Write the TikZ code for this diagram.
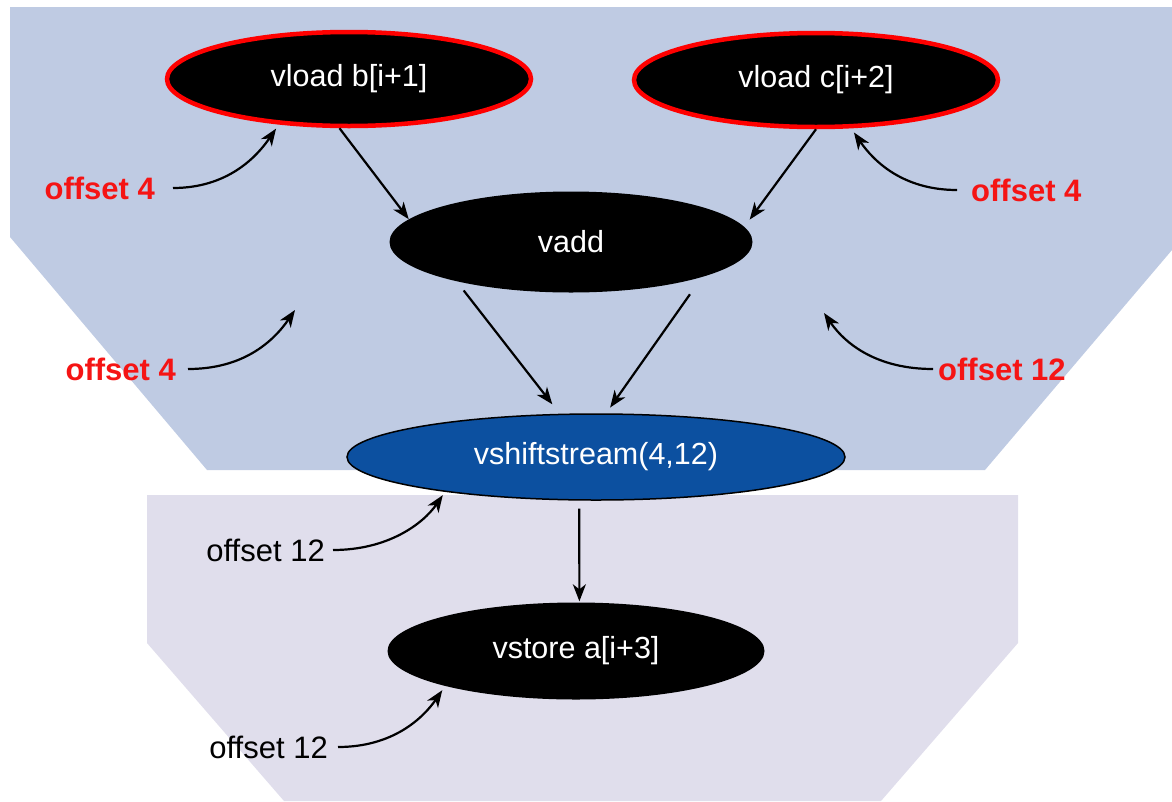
\documentclass[tikz,border=0pt]{standalone}
\usepackage{fontspec}
\setmainfont{Liberation Sans}
\usetikzlibrary{shapes.geometric,arrows.meta}
\definecolor{upperbg}{RGB}{191,203,227}
\definecolor{lowerbg}{RGB}{224,222,236}
\definecolor{nodeblue}{RGB}{12,80,160}
\definecolor{lblred}{RGB}{245,20,20}
\begin{document}
\begin{tikzpicture}[x=1pt,y=-1pt,
  op/.style={ellipse, fill=black, text=white, inner sep=0pt,
    font=\fontsize{30.5}{36}\selectfont},
  loadop/.style={op, draw=red, line width=4.5pt},
  arr/.style={line width=2.2pt, -{Stealth[length=17pt,width=13pt,inset=5pt]}},
  redlbl/.style={text=lblred, inner ysep=0pt, font=\bfseries\fontsize{31}{36}\selectfont},
  blacklbl/.style={text=black, inner ysep=0pt, font=\fontsize{31}{36}\selectfont}
]
\useasboundingbox (0,0) rectangle (1172,801);
% background regions
\fill[upperbg] (10,7) -- (1172,7) -- (1172,250) -- (985,470) -- (207,470) -- (10,237) -- cycle;
\fill[lowerbg] (147,495) -- (1018,495) -- (1018,643) -- (881,801) -- (284,801) -- (147,643) -- cycle;

% operation nodes
\node[loadop, minimum width=364pt, minimum height=94pt] (vb) at (349,79) {vload b[i+1]};
\node[loadop, minimum width=364pt, minimum height=94pt] (vc) at (816,80) {vload c[i+2]};
\node[op, minimum width=363pt, minimum height=101pt] (vadd) at (571,242) {vadd};
\node[op, fill=nodeblue, draw=black, line width=1.5pt, minimum width=498pt, minimum height=86pt] (vshift) at (596,457) {vshiftstream(4,12)};
\node[op, minimum width=377pt, minimum height=97pt] (vstore) at (576,651) {vstore a[i+3]};

% data-flow arrows
\draw[arr] (vb.-101) -- (vadd.172);
\draw[arr, shorten >=9pt] (vc.south) -- (vadd.5.7);
\draw[arr, shorten <=11.5pt, shorten >=12pt] (vadd.-161.5) -- (vshift.130.7);
\draw[arr, shorten <=21pt, shorten >=7pt] (vadd.-15.7) -- (vshift.77);
\draw[arr, shorten <=8pt, shorten >=1pt] (vshift.-111.6) -- (vstore.86.4);

% offset labels
\node[redlbl, anchor=east, inner xsep=18pt] (la) at (173,188) {offset 4};
\node[redlbl, anchor=west, inner xsep=14pt] (lb) at (957,190) {offset 4};
\node[redlbl, anchor=east, inner xsep=12pt] (lc) at (188,369) {offset 4};
\node[redlbl, anchor=west, inner xsep=5pt] (ld) at (933,369) {offset 12};
\node[blacklbl, anchor=east, inner xsep=8pt] (le) at (333,550) {offset 12};
\node[blacklbl, anchor=east, inner xsep=10pt] (lf) at (338,747) {offset 12};
\coordinate (tc) at (295,310);
\coordinate (td) at (824,313);

\draw[arr, shorten >=5pt] (la.east) .. controls +(55,0) and +(-22,32) .. (vb.-147);
\draw[arr, shorten >=5pt] (lb.west) .. controls +(-55,0) and +(22,32) .. (vc.-54.7);
\draw[arr] (lc.east) .. controls +(55,0) and +(-22,32) .. (tc);
\draw[arr] (ld.west) .. controls +(-55,0) and +(22,32) .. (td);
\draw[arr, shorten >=4pt] (le.east) .. controls +(55,0) and +(-22,32) .. (vshift.-167.9);
\draw[arr, shorten >=5pt] (lf.east) .. controls +(55,0) and +(-22,32) .. (vstore.-165.3);
\end{tikzpicture}
\end{document}
